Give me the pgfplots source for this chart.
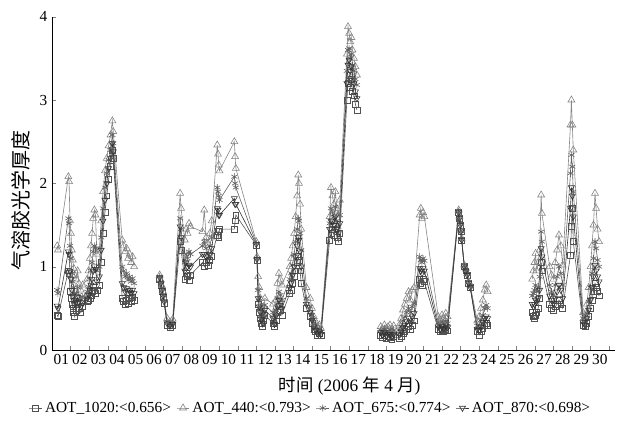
\documentclass[border=0pt]{standalone}
\usepackage{pgfplots}
\pgfplotsset{compat=1.18}
\usepackage{pgfplotstable}
\usepackage{fontspec}
\setmainfont{Liberation Serif}
\newfontfamily\cjk{Noto Sans CJK SC}

\pgfplotstableread{
t a b c d
0.28 0.42 1.25 0.72 0.53
0.32 0.40 1.20 0.68 0.50
0.88 0.95 2.08 1.58 1.18
0.92 0.92 2.02 1.52 1.15
0.97 0.70 1.55 1.25 0.95
1.02 0.62 1.40 1.10 0.85
1.07 0.55 1.20 0.92 0.72
1.12 0.50 1.08 0.82 0.65
1.17 0.45 0.98 0.75 0.60
1.22 0.40 0.90 0.68 0.55
1.30 0.48 0.85 0.68 0.58
1.38 0.55 0.95 0.75 0.63
1.45 0.50 0.80 0.66 0.58
1.55 0.45 0.72 0.60 0.52
1.65 0.52 0.78 0.64 0.57
1.90 0.58 0.85 0.70 0.62
1.97 0.60 0.95 0.76 0.66
2.04 0.62 1.10 0.85 0.72
2.10 0.65 1.25 0.95 0.78
2.16 0.70 1.40 1.05 0.85
2.22 0.75 1.58 1.18 0.95
2.28 0.72 1.68 1.25 1.00
2.34 0.68 1.62 1.22 0.97
2.42 0.72 1.15 0.95 0.82
2.55 0.78 1.20 1.00 0.88
2.65 1.05 1.55 1.35 1.20
2.75 1.40 1.90 1.70 1.55
2.85 1.65 2.15 1.95 1.80
2.95 1.85 2.30 2.12 2.00
3.05 2.05 2.45 2.28 2.18
3.15 2.20 2.58 2.40 2.30
3.25 2.40 2.75 2.58 2.48
3.30 2.30 2.62 2.48 2.38
3.78 0.62 1.32 1.00 0.80
3.86 0.58 1.25 0.95 0.75
3.94 0.55 1.18 0.88 0.70
4.02 0.60 1.22 0.92 0.74
4.10 0.56 1.10 0.84 0.68
4.18 0.62 1.15 0.88 0.72
4.26 0.58 1.05 0.82 0.68
4.34 0.63 1.12 0.86 0.72
4.42 0.60 1.00 0.80 0.68
nan nan nan nan nan
5.80 0.85 0.90 0.88 0.87
5.86 0.78 0.84 0.81 0.80
5.92 0.70 0.77 0.74 0.72
5.98 0.63 0.70 0.66 0.65
6.04 0.56 0.62 0.59 0.58
6.20 0.30 0.38 0.34 0.32
6.35 0.27 0.34 0.30 0.29
6.50 0.30 0.37 0.33 0.31
6.90 1.30 1.88 1.58 1.48
6.95 1.20 1.70 1.45 1.35
7.15 0.85 1.32 1.05 0.95
7.22 0.92 1.45 1.15 1.05
7.30 0.88 1.40 1.10 1.00
7.38 0.84 1.52 1.18 1.02
7.46 0.90 1.48 1.15 1.00
8.10 1.05 1.42 1.25 1.15
8.20 1.00 1.68 1.30 1.15
8.30 1.05 1.35 1.22 1.12
8.40 1.02 1.28 1.15 1.08
8.50 1.08 1.40 1.25 1.15
8.60 1.12 1.55 1.35 1.22
8.90 1.38 2.46 1.95 1.70
8.94 1.42 2.35 1.90 1.68
8.98 1.35 2.22 1.85 1.62
9.02 1.45 2.15 1.80 1.62
9.82 1.45 2.50 2.08 1.82
9.86 1.55 2.32 2.00 1.75
9.90 1.62 2.18 1.95 1.75
11.00 1.26 1.30 1.28 1.27
11.04 1.08 1.12 1.10 1.09
11.10 0.55 0.88 0.72 0.62
11.16 0.45 0.75 0.62 0.52
11.22 0.38 0.62 0.52 0.45
11.28 0.32 0.50 0.42 0.37
11.34 0.28 0.42 0.36 0.32
11.40 0.35 0.52 0.45 0.40
11.46 0.42 0.62 0.54 0.48
11.90 0.32 0.55 0.45 0.38
11.98 0.28 0.42 0.36 0.31
12.06 0.35 0.60 0.48 0.41
12.14 0.45 0.80 0.62 0.52
12.22 0.52 0.92 0.70 0.60
12.30 0.48 0.85 0.66 0.56
12.38 0.42 0.78 0.60 0.50
12.80 0.68 1.00 0.85 0.75
12.88 0.72 1.10 0.92 0.80
12.96 0.80 1.25 1.02 0.90
13.04 0.88 1.40 1.15 1.00
13.12 0.95 1.60 1.30 1.12
13.20 1.05 1.85 1.45 1.25
13.26 1.12 2.10 1.58 1.35
13.30 1.08 2.00 1.55 1.32
13.36 0.95 1.75 1.40 1.18
13.42 0.80 1.45 1.20 1.00
13.70 0.50 0.75 0.62 0.55
13.90 0.40 0.62 0.52 0.45
14.00 0.32 0.50 0.42 0.36
14.10 0.25 0.40 0.33 0.28
14.20 0.22 0.34 0.28 0.24
14.30 0.18 0.28 0.23 0.20
14.40 0.20 0.30 0.25 0.22
14.48 0.18 0.26 0.22 0.19
14.95 1.32 1.60 1.52 1.45
15.02 1.40 1.95 1.70 1.55
15.10 1.45 1.85 1.65 1.55
15.18 1.38 1.75 1.60 1.50
15.26 1.48 1.90 1.72 1.60
15.34 1.35 1.70 1.55 1.45
15.42 1.30 1.62 1.48 1.40
15.50 1.40 1.80 1.62 1.52
15.88 3.00 3.55 3.35 3.20
15.94 3.20 3.88 3.60 3.42
16.00 3.30 3.80 3.62 3.48
16.06 3.15 3.70 3.50 3.35
16.12 3.25 3.75 3.55 3.40
16.18 3.10 3.60 3.42 3.28
16.26 3.05 3.50 3.35 3.20
16.34 2.95 3.40 3.25 3.10
16.42 2.88 3.30 3.18 3.02
nan nan nan nan nan
17.70 0.18 0.28 0.24 0.21
17.80 0.15 0.25 0.21 0.18
17.90 0.17 0.30 0.25 0.21
18.00 0.14 0.26 0.21 0.17
18.10 0.16 0.28 0.23 0.19
18.20 0.15 0.30 0.24 0.19
18.30 0.13 0.24 0.20 0.16
18.40 0.16 0.29 0.24 0.19
18.70 0.14 0.30 0.24 0.19
18.80 0.16 0.38 0.28 0.22
18.90 0.20 0.48 0.35 0.27
19.00 0.22 0.55 0.40 0.30
19.10 0.25 0.62 0.45 0.34
19.20 0.28 0.70 0.50 0.38
19.30 0.25 0.60 0.45 0.33
19.40 0.30 0.72 0.52 0.40
19.50 0.35 0.75 0.56 0.44
19.80 0.85 1.62 1.12 0.98
19.86 0.80 1.70 1.08 0.95
19.92 0.78 1.58 1.05 0.92
19.98 0.85 1.65 1.10 0.98
20.05 0.82 1.60 1.07 0.95
20.80 0.25 0.40 0.33 0.28
20.90 0.22 0.36 0.30 0.25
21.00 0.24 0.42 0.34 0.28
21.10 0.22 0.38 0.31 0.26
21.20 0.25 0.44 0.35 0.29
21.30 0.23 0.40 0.32 0.27
21.90 1.65 1.68 1.66 1.65
21.94 1.58 1.60 1.59 1.58
21.98 1.50 1.52 1.51 1.50
22.02 1.42 1.44 1.43 1.42
22.06 1.32 1.34 1.33 1.32
22.20 1.00 1.02 1.01 1.00
22.28 0.95 0.98 0.96 0.95
22.36 0.90 0.92 0.91 0.90
22.44 0.80 0.82 0.81 0.80
22.52 0.75 0.78 0.76 0.75
22.90 0.22 0.35 0.29 0.25
23.00 0.18 0.40 0.30 0.24
23.10 0.22 0.50 0.36 0.28
23.20 0.26 0.60 0.42 0.33
23.30 0.30 0.72 0.50 0.38
23.38 0.32 0.78 0.54 0.40
23.46 0.30 0.70 0.50 0.38
nan nan nan nan nan
25.86 0.45 0.85 0.65 0.55
25.92 0.40 0.95 0.68 0.52
25.98 0.38 1.05 0.72 0.55
26.04 0.42 1.16 0.78 0.60
26.10 0.45 0.95 0.70 0.58
26.18 0.50 1.05 0.75 0.62
26.26 0.62 1.20 0.88 0.72
26.34 1.05 1.86 1.42 1.22
26.38 0.95 1.64 1.30 1.12
26.80 0.55 1.00 0.78 0.65
26.90 0.50 0.90 0.70 0.60
27.00 0.48 0.85 0.66 0.56
27.10 0.52 1.05 0.78 0.62
27.20 0.55 1.20 0.88 0.70
27.30 0.60 1.38 1.00 0.78
27.40 0.55 1.25 0.92 0.72
27.50 0.50 1.02 0.78 0.62
27.92 1.14 2.70 2.12 1.70
27.97 1.48 3.00 2.34 1.95
28.02 1.70 2.70 2.20 1.85
28.07 1.30 2.40 1.90 1.60
28.60 0.30 0.45 0.38 0.33
28.70 0.28 0.40 0.34 0.30
28.80 0.32 0.55 0.44 0.38
28.90 0.40 0.75 0.58 0.48
29.00 0.50 1.00 0.75 0.60
29.08 0.60 1.25 0.92 0.75
29.16 0.70 1.50 1.10 0.88
29.24 0.80 1.88 1.30 1.02
29.30 0.75 1.70 1.22 0.95
29.38 0.70 1.45 1.08 0.88
29.46 0.65 1.30 1.00 0.82
}\data

\begin{document}
\begin{tikzpicture}
\begin{axis}[
  scale only axis,
  width=422pt, height=250pt,
  xmin=0, xmax=30.3, ymin=0, ymax=4,
  axis x line*=bottom, axis y line*=left,
  tick align=inside,
  major tick length=3pt,
  xtick={0,...,30},
  x tick label as interval,
  xticklabels={01,02,03,04,05,06,07,08,09,10,11,12,13,14,15,16,17,18,19,20,21,22,23,24,25,26,27,28,29,30},
  ytick={0,1,2,3,4},
  tick label style={font=\fontsize{11.5}{13}\selectfont},
  /pgf/number format/assume math mode=true,
  unbounded coords=jump,
  xlabel={{\cjk 时间} (2006 {\cjk 年} 4 {\cjk 月})},
  xlabel style={at={(rel axis cs:0.529,-0.108)}, anchor=center, font=\fontsize{13}{15}\selectfont},
  ylabel={\cjk 气溶胶光学厚度},
  ylabel style={at={(rel axis cs:-0.056,0.45)}, anchor=center, font=\fontsize{15}{17}\selectfont},
  legend style={at={(rel axis cs:0.46,-0.174)}, anchor=center, draw=none, fill=none,
     legend columns=4, font=\fontsize{11.5}{13}\selectfont,
     /tikz/every even column/.append style={column sep=2pt}},
  legend image code/.code={\draw[mark repeat=2,mark phase=2] plot coordinates {(0cm,0cm) (0.17cm,0cm) (0.34cm,0cm)};},
  every axis plot/.append style={line width=0.45pt},
]
\addplot[color=black!68, mark=square, mark size=2.2pt] table[x=t,y=a] {\data};
\addlegendentry{AOT\_1020:<0.656>}
\addplot[color=black!48, mark=triangle, mark size=3pt] table[x=t,y=b] {\data};
\addlegendentry{AOT\_440:<0.793>}
\addplot[color=black!62, mark=asterisk, mark size=2.6pt] table[x=t,y=c] {\data};
\addlegendentry{AOT\_675:<0.774>}
\addplot[color=black!80, mark=triangle, mark size=2.6pt, mark options={rotate=180}] table[x=t,y=d] {\data};
\addlegendentry{AOT\_870:<0.698>}
\end{axis}
\path (-39pt,-54pt) rectangle ++(465pt,316.5pt);
\end{tikzpicture}
\end{document}
